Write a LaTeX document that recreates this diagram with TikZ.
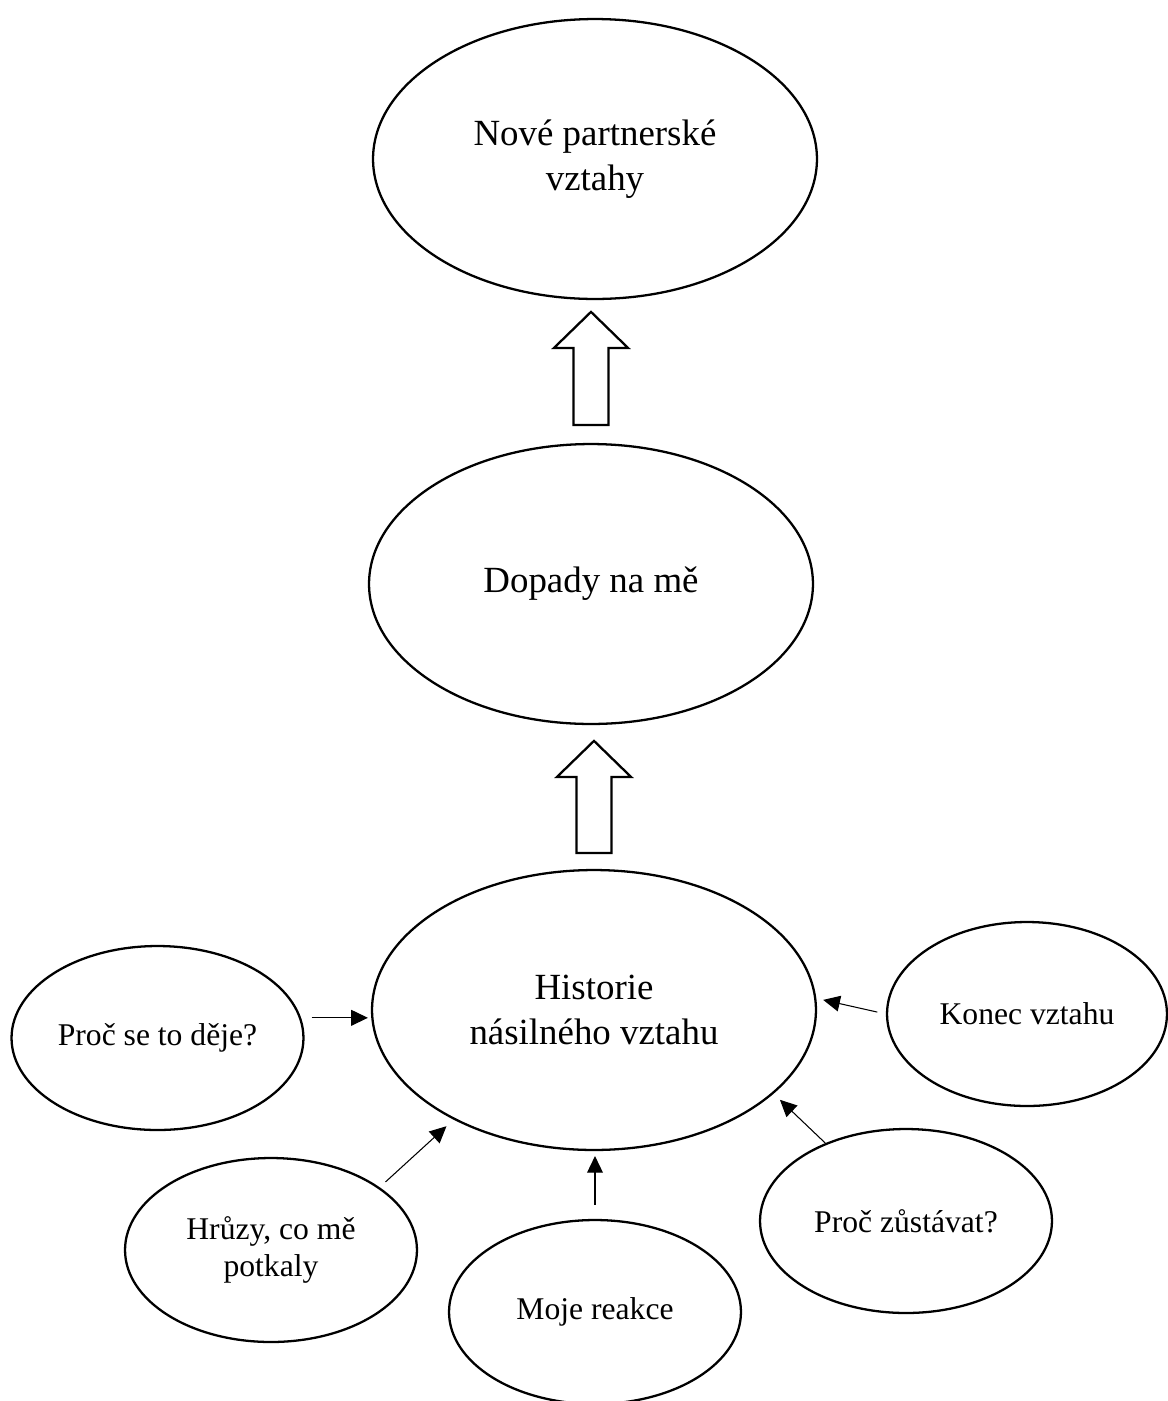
\documentclass[tikz,border=0pt]{standalone}
\usepackage{fontspec}
\setmainfont{Liberation Serif}
\usetikzlibrary{shapes.geometric,arrows.meta,scopes}

\tikzset{
  bubble/.style={draw, ellipse, line width=1.3pt, inner sep=0pt, align=center},
  bigbubble/.style={bubble, minimum width=8.88cm, minimum height=5.6cm,
    font=\fontsize{21}{25.5}\selectfont},
  smallbubble/.style={bubble, minimum width=5.84cm, minimum height=3.68cm,
    font=\fontsize{18}{21.5}\selectfont},
  pointer/.style={-{Triangle[length=9.5pt,width=9pt]}, line width=0.6pt},
  fat/.style={draw, line width=1.3pt, line join=miter},
}

\begin{document}
\begin{tikzpicture}[x=0.02cm, y=-0.02cm]
  \useasboundingbox (0,0) rectangle (1168,1401);

  % main column
  \node[bigbubble] (nove) at (595,159) {Nové partnerské\\vztahy};
  \node[bigbubble] (dopady) at (591,584) {Dopady na mě};
  \node[bigbubble] (historie) at (594,1010) {Historie\\násilného vztahu};

  % around the history
  \node[smallbubble] (proc) at (157.5,1038) {Proč se to děje?};
  \node[smallbubble, minimum width=5.6cm] (konec) at (1027,1014) {Konec vztahu};
  \node[smallbubble] (hruzy) at (271,1250) {Hrůzy, co mě\\potkaly};
  \node[smallbubble] (reakce) at (595,1312) {Moje reakce};
  \node[smallbubble] (zustavat) at (906,1221) {Proč zůstávat?};

  % block arrows
  \draw[fat] (historie.north) ++(-17.5,-16) -- ++(0,-76) -- ++(-19.5,0)
    -- ++(37,-36) -- ++(37,36) -- ++(-19.5,0) -- ++(0,76) -- cycle;
  \draw[fat] (dopady.north) ++(-17.5,-18) -- ++(0,-77) -- ++(-19.5,0)
    -- ++(37,-36) -- ++(37,36) -- ++(-19.5,0) -- ++(0,77) -- cycle;

  % small arrows
  { [pointer]
    \draw[shorten <=6pt, shorten >=1.7pt] (proc.8) -- (proc.8 -| historie.west);
    \draw[shorten <=5pt, shorten >=4pt] (konec.west) -- (historie.3);
    \draw[shorten <=4.5pt, shorten >=5.5pt] (hruzy.30) -- (historie.218);
    \draw[shorten <=8pt, shorten >=2.8pt] (reakce.north) -- (reakce.north |- historie.south);
    \draw[shorten >=5pt] (zustavat.136) -- (historie.-25);
  }
\end{tikzpicture}
\end{document}
